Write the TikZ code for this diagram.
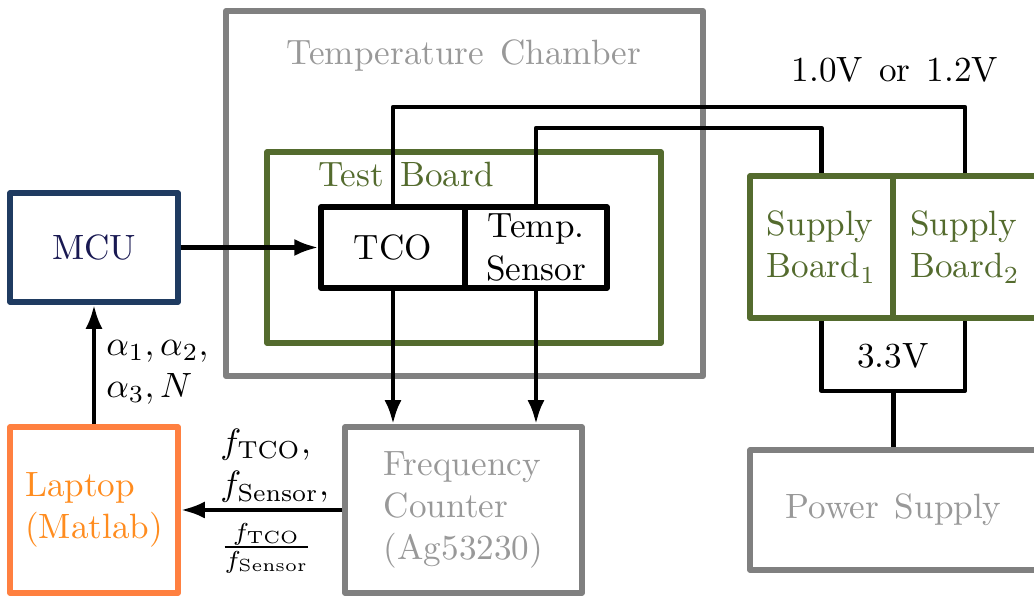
\documentclass[tikz,border=0pt]{standalone}
\usetikzlibrary{arrows.meta}

\definecolor{chambercolor}{rgb}{0.50,0.50,0.50}
\definecolor{chambertext}{rgb}{0.60,0.60,0.60}
\definecolor{boardcolor}{rgb}{0.33,0.42,0.18}
\definecolor{mcucolor}{rgb}{0.12,0.23,0.38}
\definecolor{mcutext}{rgb}{0.10,0.10,0.32}
\definecolor{laptopcolor}{rgb}{1.00,0.50,0.25}
\definecolor{laptoptext}{rgb}{1.00,0.55,0.12}

\newcommand{\widespaces}{\spaceskip=4.6pt plus 1pt minus 0.5pt\relax}

\begin{document}
\begin{tikzpicture}[
    x=0.1mm, y=-0.1mm,
    %% 1 unit = 1 px of the 1034 x 598 frame, y runs downwards
    font=\widespaces,
    box/.style={draw, line width=1.6pt, line join=round, inner sep=0pt},
    graybox/.style={box, draw=chambercolor, text=chambertext, align=left},
    greenbox/.style={box, draw=boardcolor, text=boardcolor, align=left},
    chipbox/.style={box, draw=black, line width=1.5pt, align=center,
                    minimum height=0.81cm},
    wire/.style={line width=1.2pt, line join=round},
    sig/.style={wire, -{Latex[length=2.4mm,width=1.7mm]}},
]
\useasboundingbox (0,0) rectangle (1034,598);

%% ── Temperature chamber ─────────────────────────────────────────────────
\node[graybox, line width=1.7pt, minimum width=4.77cm, minimum height=3.65cm]
    (chamber) at (464.5,193.5) {};
\node[text=chambertext, anchor=base] (chambertitle) at (464,65)
    {Temperature Chamber};

%% ── Test board ──────────────────────────────────────────────────────────
\node[greenbox, minimum width=3.94cm, minimum height=1.91cm]
    (testboard) at (464,247.5) {};
\node[text=boardcolor, anchor=base] (boardtitle) at (406,187) {Test Board};

\node[chipbox, minimum width=1.44cm] (tco)    at (393,247.5) {TCO};
\node[chipbox, minimum width=1.42cm] (sensor) at (536,247.5) {Temp.\\Sensor};

%% ── Control side ────────────────────────────────────────────────────────
\node[box, draw=mcucolor, text=mcutext, minimum width=1.68cm,
      minimum height=1.09cm] (mcu) at (94,247.5) {MCU};
\node[box, draw=laptopcolor, text=laptoptext, align=left, minimum width=1.68cm,
      minimum height=1.66cm] (laptop) at (94,510) {Laptop\\(Matlab)};
\node[graybox, minimum width=2.37cm, minimum height=1.66cm]
    (counter) at (463.5,510) {Frequency\\Counter\\(Ag53230)};

%% ── Supply side (right edge falls on the frame) ─────────────────────────
\node[greenbox, minimum width=1.43cm, minimum height=1.42cm]
    (supA) at (821.5,247) {Supply\\Board$_1$};
\node[greenbox, minimum width=1.44cm, minimum height=1.42cm]
    (supB) at (965,247) {Supply\\Board$_2$};
\node[graybox, minimum width=2.87cm, minimum height=1.2cm]
    (power) at (893.5,510) {Power Supply};

%% ── Supply rails ────────────────────────────────────────────────────────
\coordinate (railA) at (0,107);
\coordinate (railB) at (0,128);
\coordinate (railC) at (0,391);
\draw[wire] (tco.north) |- (supB.north |- railA) -- (supB.north);
\draw[wire] (sensor.north) |- (supA.north |- railB) -- (supA.north);
\draw[wire] (supA.south) |- (supB.south |- railC) -- (supB.south);
\draw[wire] (power.north) -- (power.north |- railC);
\node[anchor=base] (vcore) at (895,82) {1.0V or 1.2V};
\node[anchor=base] (vio) at (893,368) {3.3V};

%% ── Signals ─────────────────────────────────────────────────────────────
\draw[sig] (mcu.east) -- (tco.west);
\draw[sig] (laptop.north) -- (mcu.south);
\draw[sig] (tco.south) -- (tco.south |- counter.north);
\draw[sig] (sensor.south) -- (sensor.south |- counter.north);
\draw[sig] (counter.west) -- (laptop.east);

\node[anchor=west, align=left] (alphas) at (94,372)
    {$\alpha_1,\alpha_2,$\\$\alpha_3,N$};
\node[anchor=west, align=left] (freqs) at (208,466)
    {$f_{\mathrm{TCO}}$,\\$f_{\mathrm{Sensor}}$,};
\node[anchor=west] (ratio) at (208,548)
    {$\frac{f_{\mathrm{TCO}}}{f_{\mathrm{Sensor}}}$};

\end{tikzpicture}
\end{document}
